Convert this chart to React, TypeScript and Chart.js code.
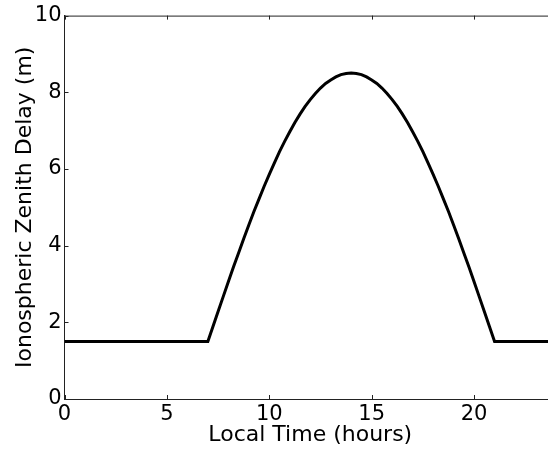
import React, { useEffect, useRef } from "react";
import { Chart, registerables } from "chart.js";

Chart.register(...registerables);

const hours = [
  0, 7, 7.25, 7.5, 7.75, 8, 8.25, 8.5, 8.75, 9, 9.25, 9.5, 9.75, 10, 10.25, 10.5, 10.75, 11, 11.25, 11.5, 11.75,
  12, 12.25, 12.5, 12.75, 13, 13.25, 13.5, 13.75, 14, 14.25, 14.5, 14.75, 15, 15.25, 15.5, 15.75, 16, 16.25,
  16.5, 16.75, 17, 17.25, 17.5, 17.75, 18, 18.25, 18.5, 18.75, 19, 19.25, 19.5, 19.75, 20, 20.25, 20.5, 20.75,
  21, 24,
];
const delay = [
  1.5, 1.5, 1.89, 2.28, 2.67, 3.06, 3.44, 3.81, 4.18, 4.54, 4.89, 5.22, 5.55, 5.86, 6.16, 6.45, 6.72, 6.97, 7.21,
  7.43, 7.63, 7.81, 7.97, 8.11, 8.23, 8.32, 8.4, 8.46, 8.49, 8.5, 8.49, 8.46, 8.4, 8.32, 8.23, 8.11, 7.97, 7.81,
  7.63, 7.43, 7.21, 6.97, 6.72, 6.45, 6.16, 5.86, 5.55, 5.22, 4.89, 4.54, 4.18, 3.81, 3.44, 3.06, 2.67, 2.28,
  1.89, 1.5, 1.5,
];
const xTicks = [0, 5, 10, 15, 20];
const yTicks = [0, 2, 4, 6, 8, 10];

const FONT = "'DejaVu Sans', sans-serif";

const inwardTicks = {
  id: "inwardTicks",
  afterDraw(chart: any) {
    const { ctx, chartArea } = chart;
    const { left, right, top, bottom } = chartArea;
    const xs = chart.scales.x;
    const ys = chart.scales.y;
    ctx.save();
    ctx.strokeStyle = "#222";
    ctx.lineWidth = 1;
    ctx.beginPath();
    ctx.moveTo(left, top + 0.5);
    ctx.lineTo(right, top + 0.5);
    for (const v of xTicks) {
      const px = Math.round(xs.getPixelForValue(v)) + 0.5;
      ctx.moveTo(px, bottom);
      ctx.lineTo(px, bottom - 4);
      ctx.moveTo(px, top);
      ctx.lineTo(px, top + 4);
    }
    for (const v of yTicks) {
      const py = Math.round(ys.getPixelForValue(v)) + 0.5;
      ctx.moveTo(left, py);
      ctx.lineTo(left + 4, py);
      ctx.moveTo(right, py);
      ctx.lineTo(right - 4, py);
    }
    ctx.stroke();
    ctx.restore();
  },
};

export default function App() {
  const ref = useRef<HTMLCanvasElement>(null);
  useEffect(() => {
    if (!ref.current) return;
    const chart = new Chart(ref.current, {
      type: "line",
      data: {
        datasets: [
          {
            data: hours.map((h, i) => ({ x: h, y: delay[i] })),
            borderColor: "#000",
            borderWidth: 3,
            pointRadius: 0,
            tension: 0,
            fill: false,
          },
        ],
      },
      options: {
        responsive: false,
        animation: false,
        layout: { padding: { top: 15, right: 0, left: 0, bottom: 0 } },
        plugins: { legend: { display: false }, tooltip: { enabled: false } },
        scales: {
          x: {
            type: "linear",
            min: 0,
            max: 24,
            afterBuildTicks: (s: any) => {
              s.ticks = xTicks.map((v) => ({ value: v }));
            },
            afterFit: (s: any) => {
              s.height = 52;
            },
            grid: { display: false, drawTicks: false },
            border: { display: true, color: "#222", width: 1 },
            ticks: { color: "#000", font: { family: FONT, size: 21 }, padding: 3, maxRotation: 0 },
            title: {
              display: true,
              text: "Local Time (hours)",
              color: "#000",
              font: { family: FONT, size: 22 },
              padding: { top: 0, bottom: 3 },
            },
          },
          y: {
            type: "linear",
            min: 0,
            max: 10,
            afterBuildTicks: (s: any) => {
              s.ticks = yTicks.map((v) => ({ value: v }));
            },
            afterFit: (s: any) => {
              s.width = 64.5;
            },
            grid: { display: false, drawTicks: false },
            border: { display: true, color: "#222", width: 1 },
            ticks: { color: "#000", font: { family: FONT, size: 21 }, padding: 3 },
            title: {
              display: true,
              text: "Ionospheric Zenith Delay (m)",
              color: "#000",
              font: { family: FONT, size: 22 },
              padding: { top: 12, bottom: 0 },
            },
          },
        },
      },
      plugins: [inwardTicks],
    } as any);
    return () => chart.destroy();
  }, []);
  return (
    <div style={{ position: "fixed", left: 0, top: 0, width: 548, height: 451, overflow: "hidden", background: "#fff" }}>
      <canvas ref={ref} width={556} height={451} style={{ display: "block" }} />
    </div>
  );
}
